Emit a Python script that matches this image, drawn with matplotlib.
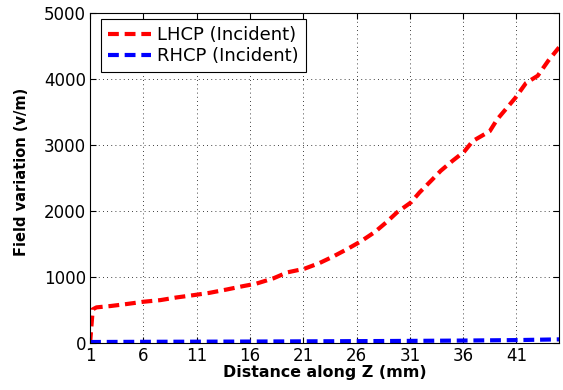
import matplotlib.pyplot as plt

plt.rcParams['font.family'] = ['DejaVu Sans']

# distance along Z (mm) and field values (v/m)
z_lhcp = [1, 1.25, 1.6, 2.9, 4.4, 6, 7.6, 9.1, 10.7, 12.2, 13.8, 15.3, 16.6, 18.2,
          19.5, 21.1, 22.5, 23.8, 25.2, 26.4, 27.7, 28.8, 29.8, 31.1, 31.9, 33,
          33.9, 35, 36.1, 36.9, 38.5, 39.2, 40.9, 41.9, 43, 44, 45]
lhcp = [0, 510, 540, 560, 590, 625, 650, 690, 725, 760, 810, 860, 900, 980,
        1070, 1125, 1210, 1310, 1430, 1540, 1680, 1830, 1980, 2130, 2280, 2460,
        2610, 2760, 2900, 3060, 3210, 3390, 3715, 3940, 4050, 4280, 4480]

z_rhcp = [1, 6, 11, 16, 21, 26, 31, 36, 41, 45]
rhcp = [15, 18, 20, 22, 25, 28, 32, 37, 44, 55]

xticks = [1, 6, 11, 16, 21, 26, 31, 36, 41]
yticks = [0, 1000, 2000, 3000, 4000, 5000]

fig = plt.figure(figsize=(5.63, 3.9), dpi=100)
ax = fig.add_axes([0.16, 0.1205, 0.833, 0.846])

ax.plot(z_lhcp, lhcp, color='red', lw=3, dashes=(2.6, 1.4), label='LHCP (Incident)')
ax.plot(z_rhcp, rhcp, color='blue', lw=3, dashes=(2.6, 1.4), label='RHCP (Incident)')

ax.set_xlim(1, 45)
ax.set_ylim(0, 5000)
ax.set_xticks(xticks)
ax.set_yticks(yticks)
ax.tick_params(direction='in', top=True, right=True, labelsize=12, length=4, width=0.8, pad=3)
ax.grid(True, color='black', linestyle=(0, (1, 4)), linewidth=0.6)
for s in ax.spines.values():
    s.set_linewidth(0.8)

ax.set_xlabel('Distance along Z (mm)', fontsize=11.4, fontweight='bold', labelpad=0)
ax.set_ylabel('Field variation (v/m)', fontsize=10.5, fontweight='bold', labelpad=4)
ax.yaxis.set_label_coords(-0.13, 0.52)

leg = ax.legend(loc='upper left', fontsize=13, fancybox=False, framealpha=1,
                edgecolor='black', handlelength=2.4, handletextpad=0.3, borderpad=0.4,
                labelspacing=0.15, borderaxespad=0, bbox_to_anchor=(0.023, 0.982))
leg.get_frame().set_linewidth(0.8)

fig.savefig('out.png', dpi=100)
